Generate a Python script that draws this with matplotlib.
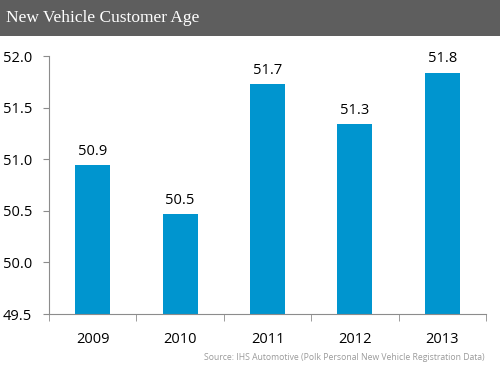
import matplotlib
matplotlib.use("Agg")
import matplotlib.pyplot as plt
from matplotlib.patches import Rectangle

# --- Data ---
years = ["2009", "2010", "2011", "2012", "2013"]
avg_age = [50.94, 50.47, 51.73, 51.34, 51.84]
y_ticks = [49.5, 50.0, 50.5, 51.0, 51.5, 52.0]

TITLE = "New Vehicle Customer Age"
SOURCE = "Source: IHS Automotive (Polk Personal New Vehicle Registration Data)"

BAR_COLOR = "#0095cf"
AXIS_COLOR = "#8c8c8c"
HEADER_COLOR = "#5e5e5e"

fig = plt.figure(figsize=(5.0, 3.66), dpi=100)

# header bar
fig.patches.append(Rectangle((0, 1 - 36 / 366), 1, 36 / 366, transform=fig.transFigure,
                             facecolor=HEADER_COLOR, edgecolor="none", zorder=0))
fig.text(6 / 500, 1 - 18 / 366, TITLE, color="white", fontsize=12.5,
         family="Liberation Serif", va="center", ha="left")

ax = fig.add_axes([49 / 500, 52 / 366, 437 / 500, 258 / 366])
x = range(len(years))
ax.bar(x, avg_age, width=0.4, color=BAR_COLOR)
ax.set_ylim(49.5, 52.0)
ax.set_xlim(-0.5, len(years) - 0.5)

# value labels above bars
for xi, v in zip(x, avg_age):
    ax.text(xi, v + 0.06, f"{v:.1f}", ha="center", va="bottom", fontsize=10.5,
            family="Open Sans", color="black")

ax.set_yticks(y_ticks)
ax.set_yticklabels([f"{t:.1f}" for t in y_ticks], fontsize=10.5, family="Open Sans")
ax.set_xticks(list(x))
ax.set_xticklabels(years, fontsize=10.5, family="Open Sans")
ax.set_xticks([i - 0.5 for i in range(len(years) + 1)], minor=True)
ax.tick_params(axis="x", which="major", length=0, pad=13)
ax.tick_params(axis="x", which="minor", length=5, color=AXIS_COLOR, direction="out")
ax.tick_params(axis="y", length=4, color=AXIS_COLOR, direction="out", pad=8)

for side in ["top", "right"]:
    ax.spines[side].set_visible(False)
for side in ["left", "bottom"]:
    ax.spines[side].set_color(AXIS_COLOR)

fig.text(485 / 500, 1 - 358 / 366, SOURCE, color="#9a9a9a", fontsize=6.2,
         family="Open Sans", ha="right", va="center")

fig.savefig("out.png", dpi=100)
